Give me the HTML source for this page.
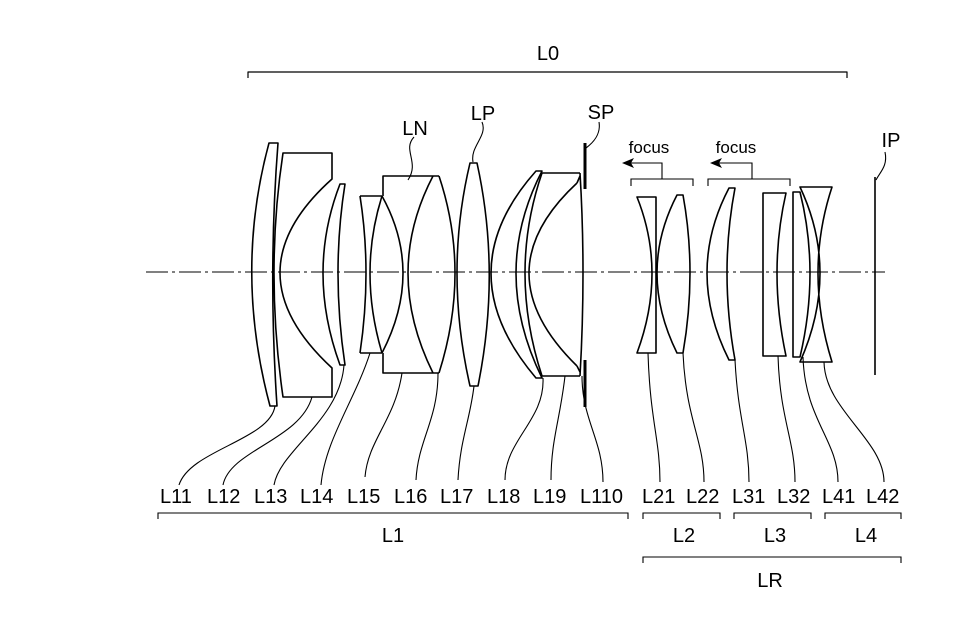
<!DOCTYPE html>
<html><head><meta charset="utf-8"><style>
html,body{margin:0;padding:0;background:#fff;}
svg{display:block;}
text{font-family:"Liberation Sans",sans-serif;fill:#000;}
</style></head><body>
<svg width="968" height="640" viewBox="0 0 968 640" xmlns="http://www.w3.org/2000/svg">
<rect width="968" height="640" fill="#fff"/>
<g fill="none" stroke="#000" stroke-width="1.6" stroke-linejoin="round">
<!-- axis -->
<line x1="146" y1="272" x2="885" y2="272" stroke-width="1" stroke-dasharray="22,4,3,4"/>
<!-- L0 bracket -->
<path d="M248,78 V72 H847 V78" stroke-width="1.2"/>
<!-- L11 -->
<path d="M269,143 L278,143 Q268,272 277,406 L270,406 Q234,272 269,143 Z"/>
<!-- L12 -->
<path d="M283,153 L332,153 L332,179 Q228,272 332,368 L332,397 L283,397 Q265,272 283,153 Z"/>
<!-- L13 -->
<path d="M340,184 L345,184 Q331,272 345,365 L340,365 Q306,272 340,184 Z"/>
<!-- L15 group & L16 block -->
<path d="M360,196 L382,196 M360,353 L382,353 M360,196 Q372,272 360,353"/>
<path d="M382,196 Q424,272 382,353"/>
<path d="M382,196 Q358,272 382,353"/>
<path d="M383,196 L383,176 L439,176 M383,353 L383,373 L439,373"/>
<path d="M433,176 Q383,272 433,373"/>
<path d="M439,176 Q471,272 439,373"/>
<!-- L17 -->
<path d="M470,163 L477,163 Q501,272 478,386 L470,386 Q444,272 470,163 Z"/>
<!-- L18 -->
<path d="M536,171 L542,171 Q490,272 542,378 L536,378 Q446,272 536,171 Z"/>
<!-- L19 -->
<path d="M542,173 L580,173 M542,376 L580,376"/>
<path d="M542,173 Q508,272 542,376"/>
<path d="M577,183 Q481,272 577,366"/>
<path d="M577,183 L580,176 M577,366 L580,372"/>
<path d="M580,173 Q586,272 580,376"/>
<!-- SP -->
<path d="M585,143 V189 M585,360 V407" stroke-width="3"/>
<!-- L21 -->
<path d="M637,197 L656,197 L656,353 L637,353 Q667,272 637,197 Z"/>
<!-- L22 -->
<path d="M677,195 L683,195 Q697,272 683,353 L677,353 Q637,272 677,195 Z"/>
<!-- L31 -->
<path d="M729,188 L735,188 Q719,272 735,360 L729,360 Q685,272 729,188 Z"/>
<!-- L32 -->
<path d="M763,193 L786,193 Q768,272 786,356 L763,356 Z"/>
<!-- L41 -->
<path d="M793,192 L800,192 Q820,272 800,357 L793,357 Z"/>
<!-- L42 -->
<path d="M800,187 L832,187 Q804,272 832,362 L800,362 Q840,272 800,187 Z"/>
<!-- IP -->
<line x1="875" y1="177" x2="875" y2="375"/>
</g>
<g fill="none" stroke="#000" stroke-width="1.1">
<!-- focus brackets -->
<path d="M631,186 V179 H693 V186 M662,179 V163 H630"/>
<path d="M708,186 V179 H790 V186 M752,179 V163 H717"/>
<!-- top leaders -->
<path d="M414,137 C402,150 420,162 408,180"/>
<path d="M482,122 C488,136 470,146 473,162"/>
<path d="M599,122 C601,134 594,142 586,148"/>
<path d="M885,152 C888,166 880,172 876,180"/>
<!-- bottom leaders -->
<path d="M275,406 C270,440 190,450 179,485"/>
<path d="M312,397 C300,440 230,450 223,485"/>
<path d="M344,365 C340,420 280,450 274,485"/>
<path d="M370,353 C355,400 325,440 321,485"/>
<path d="M402,373 C395,420 368,440 365,477"/>
<path d="M438,373 C438,420 418,440 416,480"/>
<path d="M474,386 C470,420 460,440 458,480"/>
<path d="M543,378 C545,420 505,440 505,480"/>
<path d="M565,376 C560,420 551,440 551,480"/>
<path d="M582,376 C582,420 603,440 603,482"/>
<path d="M648,353 C650,420 660,440 660,482"/>
<path d="M683,353 C686,420 704,440 704,482"/>
<path d="M735,360 C738,420 749,440 749,482"/>
<path d="M778,356 C780,420 795,440 795,482"/>
<path d="M803,357 C805,420 838,440 838,482"/>
<path d="M824,362 C825,410 884,440 884,482"/>
<!-- group brackets -->
<path d="M158,519 V513 H628 V519"/>
<path d="M643,519 V513 H720 V519"/>
<path d="M734,519 V513 H811 V519"/>
<path d="M825,519 V513 H901 V519"/>
<path d="M643,563 V557 H901 V563"/>
</g>
<path d="M622,163 L634,158 L631,163 L634,168 Z" fill="#000"/>
<path d="M710,163 L722,158 L719,163 L722,168 Z" fill="#000"/>
<g font-size="20">
<text x="548" y="60" text-anchor="middle">L0</text>
<text x="415" y="135" text-anchor="middle">LN</text>
<text x="483" y="120" text-anchor="middle">LP</text>
<text x="601" y="119" text-anchor="middle">SP</text>
<text x="891" y="147" text-anchor="middle">IP</text>
<g font-size="17">
<text x="649" y="153" text-anchor="middle">focus</text>
<text x="736" y="153" text-anchor="middle">focus</text>
</g>
<text x="160" y="503">L11</text>
<text x="207" y="503">L12</text>
<text x="254" y="503">L13</text>
<text x="300" y="503">L14</text>
<text x="347" y="503">L15</text>
<text x="394" y="503">L16</text>
<text x="440" y="503">L17</text>
<text x="487" y="503">L18</text>
<text x="533" y="503">L19</text>
<text x="580" y="503">L110</text>
<text x="642" y="503">L21</text>
<text x="686" y="503">L22</text>
<text x="732" y="503">L31</text>
<text x="777" y="503">L32</text>
<text x="822" y="503">L41</text>
<text x="866" y="503">L42</text>
<text x="393" y="542" text-anchor="middle">L1</text>
<text x="684" y="542" text-anchor="middle">L2</text>
<text x="775" y="542" text-anchor="middle">L3</text>
<text x="866" y="542" text-anchor="middle">L4</text>
<text x="770" y="587" text-anchor="middle">LR</text>
</g>
</svg>
</body></html>
